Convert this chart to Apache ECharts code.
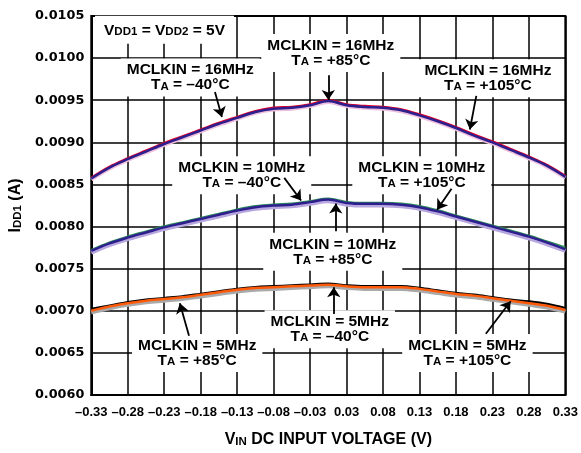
<!DOCTYPE html>
<html>
<head>
<meta charset="utf-8">
<script src="https://cdn.jsdelivr.net/npm/echarts@6/dist/echarts.min.js"></script>
<style>
html,body{margin:0;padding:0;background:#fff;}
#chart{width:581px;height:453px;}
</style>
</head>
<body>
<div id="chart"></div>
<script>
// ---- data ----
const xValues = [-0.325, -0.3, -0.275, -0.25, -0.225, -0.2, -0.175, -0.15, -0.125, -0.1, -0.075, -0.05, -0.025, 0, 0.025, 0.05, 0.075, 0.1, 0.125, 0.15, 0.175, 0.2, 0.225, 0.25, 0.275, 0.3, 0.325];

const mclk16Pink = [0.00856, 0.00869, 0.00879, 0.00888, 0.00897, 0.00905, 0.00913, 0.00921, 0.00928, 0.00935, 0.00939, 0.00940, 0.00943, 0.00948, 0.00943, 0.00941, 0.00940, 0.00937, 0.00931, 0.00924, 0.00916, 0.00907, 0.00899, 0.00890, 0.00881, 0.00871, 0.00858];
const mclk16Red  = [0.00858, 0.00871, 0.00881, 0.00890, 0.00899, 0.00907, 0.00915, 0.00923, 0.00930, 0.00937, 0.00941, 0.00942, 0.00945, 0.00950, 0.00945, 0.00943, 0.00942, 0.00939, 0.00933, 0.00926, 0.00918, 0.00909, 0.00901, 0.00892, 0.00883, 0.00873, 0.00860];
const mclk16Navy = [0.00857, 0.00870, 0.00880, 0.00889, 0.00898, 0.00906, 0.00914, 0.00922, 0.00929, 0.00936, 0.00940, 0.00941, 0.00944, 0.00949, 0.00944, 0.00942, 0.00941, 0.00938, 0.00932, 0.00925, 0.00917, 0.00908, 0.00900, 0.00891, 0.00882, 0.00872, 0.00859];

const mclk10Lavender = [0.00769, 0.00778, 0.00785, 0.00791, 0.00797, 0.00802, 0.00807, 0.00812, 0.00817, 0.00821, 0.00823, 0.00824, 0.00827, 0.00830, 0.00826, 0.00825, 0.00825, 0.00824, 0.00821, 0.00816, 0.00810, 0.00804, 0.00798, 0.00792, 0.00786, 0.00779, 0.00771];
const mclk10Green    = [0.00772, 0.00781, 0.00788, 0.00794, 0.00800, 0.00805, 0.00810, 0.00815, 0.00820, 0.00824, 0.00826, 0.00827, 0.00830, 0.00833, 0.00829, 0.00828, 0.00828, 0.00827, 0.00824, 0.00819, 0.00813, 0.00807, 0.00801, 0.00795, 0.00789, 0.00782, 0.00775];
const mclk10Navy     = [0.00771, 0.00780, 0.00787, 0.00793, 0.00799, 0.00804, 0.00809, 0.00814, 0.00819, 0.00823, 0.00825, 0.00826, 0.00829, 0.00832, 0.00828, 0.00827, 0.00827, 0.00826, 0.00823, 0.00818, 0.00812, 0.00806, 0.00800, 0.00794, 0.00788, 0.00781, 0.00773];

const mclk5Gray   = [0.00698, 0.00703, 0.00707, 0.00710, 0.00712, 0.00714, 0.00717, 0.00720, 0.00723, 0.00725, 0.00726, 0.00727, 0.00728, 0.00729, 0.00727, 0.00726, 0.00726, 0.00726, 0.00724, 0.00721, 0.00718, 0.00716, 0.00713, 0.00710, 0.00707, 0.00704, 0.00699];
const mclk5Black  = [0.00702, 0.00706, 0.00710, 0.00713, 0.00715, 0.00717, 0.00720, 0.00723, 0.00726, 0.00728, 0.00729, 0.00730, 0.00731, 0.00732, 0.00730, 0.00729, 0.00729, 0.00729, 0.00727, 0.00724, 0.00721, 0.00719, 0.00716, 0.00713, 0.00711, 0.00708, 0.00703];
const mclk5Orange = [0.00700, 0.00705, 0.00709, 0.00712, 0.00714, 0.00716, 0.00719, 0.00722, 0.00725, 0.00727, 0.00728, 0.00729, 0.00730, 0.00731, 0.00729, 0.00728, 0.00728, 0.00728, 0.00726, 0.00723, 0.00720, 0.00718, 0.00715, 0.00712, 0.00709, 0.00706, 0.00701];

const xTickLabels = ['\u20130.33', '\u20130.28', '\u20130.23', '\u20130.18', '\u20130.13', '\u20130.08', '\u20130.03', '0.03', '0.08', '0.13', '0.18', '0.23', '0.28', '0.33'];
const yTickLabels = ['0.0060', '0.0065', '0.0070', '0.0075', '0.0080', '0.0085', '0.0090', '0.0095', '0.0100', '0.0105'];

// annotation texts and their anchor points (data coordinates)
const noteTexts = [
  '{m|V}{u|DD1}{m| = V}{u|DD2}{m| = 5V}',
  '{m|MCLKIN = 16MHz}\n{m|T}{u|A}{m| = \u201340\u00B0C}',
  '{m|MCLKIN = 16MHz}\n{m|T}{u|A}{m| = +85\u00B0C}',
  '{m|MCLKIN = 16MHz}\n{m|T}{u|A}{m| = +105\u00B0C}',
  '{m|MCLKIN = 10MHz}\n{m|T}{u|A}{m| = \u201340\u00B0C}',
  '{m|MCLKIN = 10MHz}\n{m|T}{u|A}{m| = +105\u00B0C}',
  '{m|MCLKIN = 10MHz}\n{m|T}{u|A}{m| = +85\u00B0C}',
  '{m|MCLKIN = 5MHz}\n{m|T}{u|A}{m| = +85\u00B0C}',
  '{m|MCLKIN = 5MHz}\n{m|T}{u|A}{m| = \u201340\u00B0C}',
  '{m|MCLKIN = 5MHz}\n{m|T}{u|A}{m| = +105\u00B0C}'
];
const noteX = [-0.2246, -0.1893, 0.0034, 0.2188, -0.1187, 0.1282, 0.0061, -0.1798, 0.0020, 0.1907];
const noteY = [0.010336, 0.009770, 0.010060, 0.009760, 0.008610, 0.008610, 0.007700, 0.006500, 0.006780, 0.006500];

// arrows: start -> tip (data coordinates)
const arrowFromX = [-0.1554, 0.0, 0.2029, -0.0604, 0.1689, 0.0102, -0.1910, 0.0075, 0.2160];
const arrowFromY = [0.009598, 0.009797, 0.009551, 0.008578, 0.008449, 0.007945, 0.006703, 0.006961, 0.006727];
const arrowToX   = [-0.1459, 0.0, 0.1941, -0.0373, 0.1492, 0.0102, -0.2036, 0.0075, 0.2500];
const arrowToY   = [0.009300, 0.009504, 0.009152, 0.008309, 0.008200, 0.008273, 0.007090, 0.007280, 0.007113];

// ---- chart ----
const chart = echarts.init(document.getElementById('chart'), null, {renderer: 'canvas'});
const FONT = 'Liberation Sans';
const pair = arr => xValues.map((x, i) => [x, arr[i]]);

function curve(name, arr, color, width) {
  return {
    name: name, type: 'line', data: pair(arr), smooth: 0.35, showSymbol: false, symbol: 'none',
    lineStyle: {color: color, width: width}, silent: true, animation: false, z: 2
  };
}

const labelRich = {
  m: {fontFamily: FONT, fontWeight: 'bold', fontSize: 15.5, lineHeight: 15, color: '#000'},
  u: {fontFamily: FONT, fontWeight: 'bold', fontSize: 11.5, lineHeight: 7, verticalAlign: 'bottom', color: '#000'}
};

const markPointData = noteTexts.map((t, i) => ({
  coord: [noteX[i], noteY[i]],
  label: {formatter: t, padding: i === 0 ? [7, 9, 6, 9] : [4, 6, 4, 6]}
}));

const arrowData = arrowFromX.map((x, i) => ({
  coords: [[x, arrowFromY[i]], [arrowToX[i], arrowToY[i]]]
}));

const series = [
  curve('16MHz pink', mclk16Pink, '#efc0de', 4),
  curve('16MHz red', mclk16Red, '#e3002b', 2.5),
  curve('16MHz navy', mclk16Navy, '#2d1f8e', 2.5),
  curve('10MHz lavender', mclk10Lavender, '#b8a6de', 4),
  curve('10MHz green', mclk10Green, '#2f8c5a', 2.5),
  curve('10MHz navy', mclk10Navy, '#2d1f8e', 2.5),
  curve('5MHz gray', mclk5Gray, '#a9a9a9', 4),
  curve('5MHz black', mclk5Black, '#000000', 2.5),
  curve('5MHz orange', mclk5Orange, '#ff5a0a', 2.5),
  {
    name: 'notes', type: 'line', data: [], silent: true, animation: false, z: 3,
    markPoint: {
      silent: true, animation: false,
      symbol: 'rect', symbolSize: 0,
      itemStyle: {color: 'rgba(0,0,0,0)'},
      label: {show: true, position: 'inside', backgroundColor: '#fff', align: 'center', rich: labelRich, color: '#000'},
      data: markPointData
    }
  },
  {
    name: 'arrows', type: 'lines', coordinateSystem: 'cartesian2d', silent: true, animation: false, z: 6,
    symbol: ['none', 'arrow'], symbolSize: 10,
    lineStyle: {color: '#000', width: 1.8, type: 'solid', opacity: 1, curveness: 0},
    itemStyle: {color: '#000'},
    data: arrowData
  }
];

const option = {
  backgroundColor: '#fff',
  animation: false,
  grid: {left: 88, right: 14, top: 16, bottom: 53, show: true, borderColor: '#000', borderWidth: 2, backgroundColor: 'transparent'},
  xAxis: {
    type: 'value', min: -0.325, max: 0.325, interval: 0.05,
    axisLine: {show: true, onZero: false, lineStyle: {color: '#000', width: 2}},
    axisTick: {show: false},
    splitLine: {show: true, lineStyle: {color: '#000', width: 1.5}},
    axisLabel: {
      margin: 11, color: '#000', fontFamily: FONT, fontWeight: 'bold', fontSize: 13,
      formatter: v => xTickLabels[Math.round((v + 0.325) / 0.05)] || ''
    },
    name: '{m|V}{u|IN}{m| DC INPUT VOLTAGE (V)}', nameLocation: 'middle', nameGap: 37,
    nameTextStyle: {
      rich: {
        m: {fontFamily: FONT, fontWeight: 'bold', fontSize: 16, lineHeight: 16, color: '#000'},
        u: {fontFamily: FONT, fontWeight: 'bold', fontSize: 11.5, lineHeight: 7, verticalAlign: 'bottom', color: '#000'}
      }
    }
  },
  yAxis: {
    type: 'value', min: 0.006, max: 0.0105, interval: 0.0005,
    axisLine: {show: true, onZero: false, lineStyle: {color: '#000', width: 2}},
    axisTick: {show: false},
    splitLine: {show: true, lineStyle: {color: '#000', width: 1.5}},
    axisLabel: {
      margin: 7, color: '#000', fontFamily: 'DejaVu Sans', fontWeight: 'bold', fontSize: 12.8,
      formatter: v => yTickLabels[Math.round((v - 0.006) / 0.0005)] || ''
    },
    name: '{m|I}{u|DD1}{m| (A)}', nameLocation: 'middle', nameRotate: 90, nameGap: 49,
    nameTextStyle: {
      rich: {
        m: {fontFamily: FONT, fontWeight: 'bold', fontSize: 16, lineHeight: 16, color: '#000'},
        u: {fontFamily: FONT, fontWeight: 'bold', fontSize: 11.5, lineHeight: 7, verticalAlign: 'bottom', color: '#000'}
      }
    }
  },
  series: series
};
chart.setOption(option);
</script>
</body>
</html>
